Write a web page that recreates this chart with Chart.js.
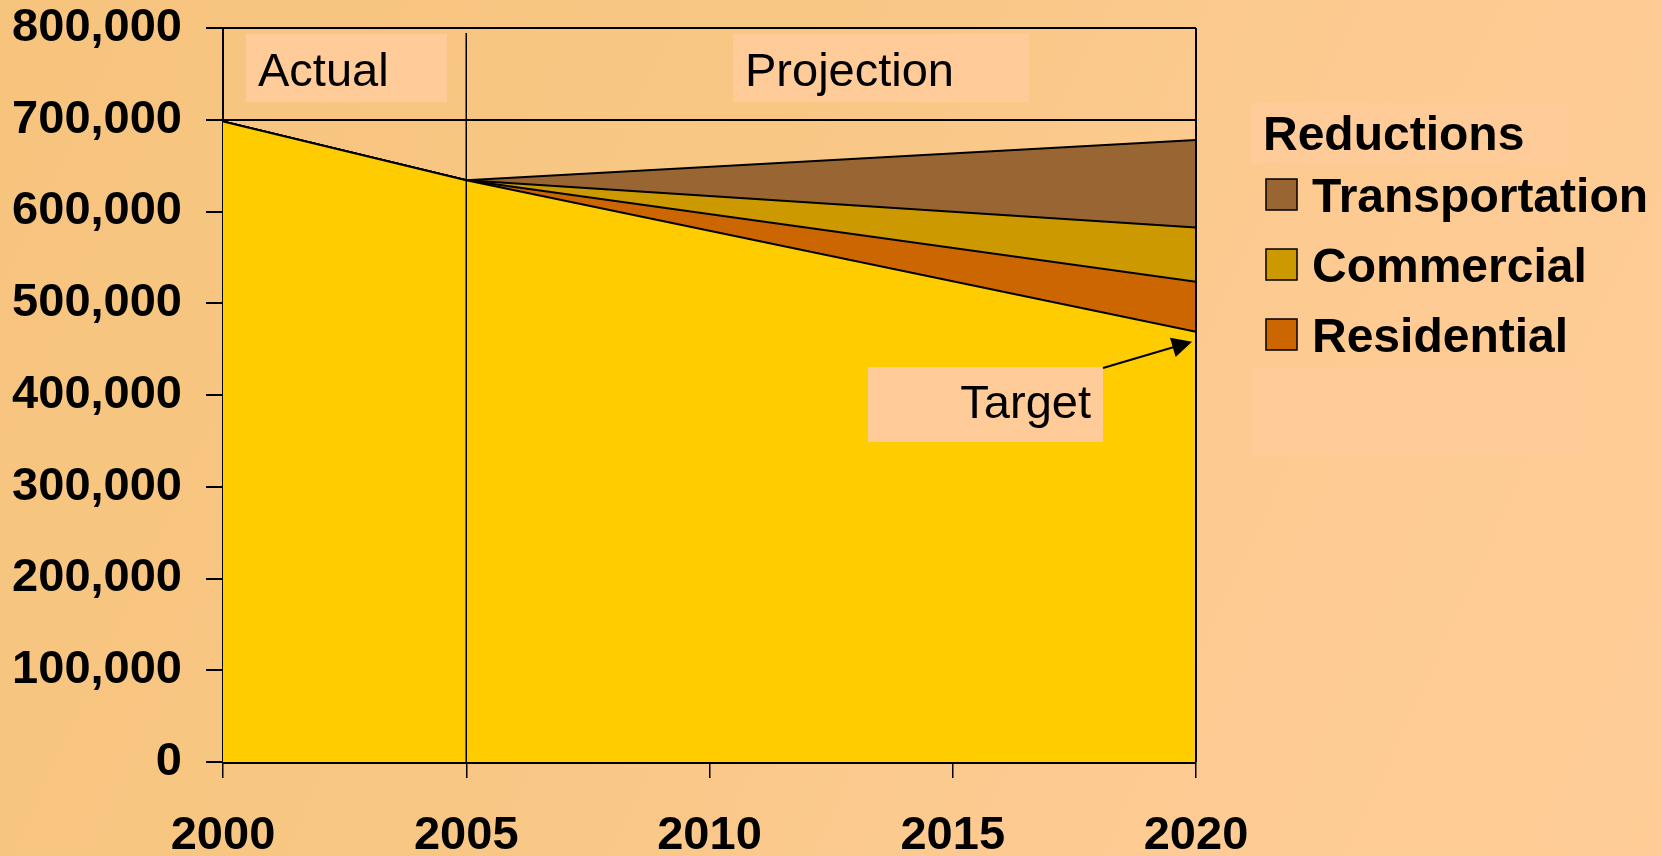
<!DOCTYPE html>
<html>
<head>
    <title>Emission Reductions</title>
    <script src="https://cdn.jsdelivr.net/npm/chart.js@4.4.0/dist/chart.umd.min.js"></script>
    <style>
        body {
            margin: 0;
            width: 1662px;
            height: 856px;
            overflow: hidden;
            background: linear-gradient(115deg, #F6C47D 0%, #F8C784 40%, #FDCB92 70%, #FFCC97 100%);
        }
        canvas { display: block; }
    </style>
</head>
<body>
    <canvas id="chart" width="1662" height="856"></canvas>

    <script>
        const years = [2000, 2005, 2020];
        const emissions = [698000, 634000, 469000];
        const residential = [0, 0, 54500];
        const commercial = [0, 0, 59000];
        const transportation = [0, 0, 95500];
        const yearTicks = [2000, 2005, 2010, 2015, 2020];

        const FONT = '"Liberation Sans", Arial, sans-serif';
        const BOX = '#FFCC99';

        function points(values) {
            return years.map((year, i) => ({ x: year, y: values[i] }));
        }

        function area(label, values, color, fill) {
            return {
                label: label,
                data: points(values),
                backgroundColor: color,
                borderColor: '#000',
                borderWidth: 2,
                fill: fill,
                pointRadius: 0,
                tension: 0
            };
        }

        // labelled boxes, offsets from the chart area's top-left corner
        const notes = [
            { text: 'Actual', dx: 23, dy: 6, w: 201, h: 68, align: 'left', base: 52 },
            { text: 'Projection', dx: 510, dy: 6, w: 296, h: 68, align: 'left', base: 52 },
            { text: 'Target', dx: 645, dy: 339, w: 235, h: 75, align: 'right', base: 51 }
        ];

        const overlay = {
            id: 'overlay',
            afterDatasetsDraw(chart) {
                const { ctx, chartArea: a, scales: { x, y } } = chart;
                ctx.save();

                // right frame edge and the actual/projection divider
                ctx.strokeStyle = '#000';
                ctx.lineWidth = 2;
                ctx.beginPath();
                ctx.moveTo(a.right, a.top);
                ctx.lineTo(a.right, a.bottom);
                ctx.stroke();
                const xd = x.getPixelForValue(years[1]);
                ctx.lineWidth = 1.5;
                ctx.beginPath();
                ctx.moveTo(xd, a.top + 5);
                ctx.lineTo(xd, a.bottom + 2);
                ctx.stroke();

                // text boxes
                ctx.font = '47px ' + FONT;
                ctx.textBaseline = 'alphabetic';
                notes.forEach(n => {
                    const bx = a.left + n.dx, by = a.top + n.dy;
                    ctx.fillStyle = BOX;
                    ctx.fillRect(bx, by, n.w, n.h);
                    ctx.fillStyle = '#000';
                    ctx.textAlign = n.align;
                    ctx.fillText(n.text, n.align === 'left' ? bx + 12 : bx + n.w - 12, by + n.base);
                });

                // arrow from the target box to the end of the target line
                const target = notes[2];
                const x0 = a.left + target.dx + target.w, y0 = a.top + target.dy + 1;
                const x1 = x.getPixelForValue(years[2]) - 4;
                const y1 = y.getPixelForValue(emissions[2]) + 10;
                const ang = Math.atan2(y1 - y0, x1 - x0);
                const cos = Math.cos(ang), sin = Math.sin(ang);
                ctx.lineWidth = 2;
                ctx.beginPath();
                ctx.moveTo(x0, y0);
                ctx.lineTo(x1 - 16 * cos, y1 - 16 * sin);
                ctx.stroke();
                ctx.beginPath();
                ctx.moveTo(x1, y1);
                ctx.lineTo(x1 - 20 * cos + 10 * sin, y1 - 20 * sin - 10 * cos);
                ctx.lineTo(x1 - 20 * cos - 10 * sin, y1 - 20 * sin + 10 * cos);
                ctx.closePath();
                ctx.fill();

                // legend for the reduction layers, top layer first
                const lx = a.right + 55;
                ctx.fillStyle = BOX;
                ctx.fillRect(lx, a.top + 75, 317, 60);
                ctx.fillRect(lx + 1, a.top + 340, 331, 87);
                ctx.fillStyle = '#000';
                ctx.textAlign = 'left';
                ctx.font = 'bold 48px ' + FONT;
                ctx.fillText('Reductions', lx + 12, a.top + 122);
                const layers = chart.data.datasets.slice(1).reverse();
                layers.forEach((ds, i) => {
                    const sy = a.top + 151 + i * 70;
                    ctx.fillStyle = ds.backgroundColor;
                    ctx.fillRect(lx + 15, sy, 31, 31);
                    ctx.lineWidth = 1.5;
                    ctx.strokeStyle = '#000';
                    ctx.strokeRect(lx + 15, sy, 31, 31);
                    ctx.fillStyle = '#000';
                    ctx.fillText(ds.label, lx + 61, sy + 33);
                });

                ctx.restore();
            }
        };

        new Chart(document.getElementById('chart'), {
            type: 'line',
            data: {
                datasets: [
                    area('Emissions', emissions, '#FFCC00', 'origin'),
                    area('Residential', residential, '#CC6600', '-1'),
                    area('Commercial', commercial, '#CC9900', '-1'),
                    area('Transportation', transportation, '#996633', '-1')
                ]
            },
            options: {
                responsive: false,
                animation: false,
                layout: { padding: { top: 28, right: 466, left: 0, bottom: 0 } },
                plugins: {
                    legend: { display: false },
                    tooltip: { enabled: false }
                },
                scales: {
                    x: {
                        type: 'linear',
                        min: 2000,
                        max: 2020,
                        afterBuildTicks: scale => {
                            scale.ticks = yearTicks.map(v => ({ value: v }));
                        },
                        afterFit: scale => {
                            scale.height = 94;
                            scale.paddingLeft = 0;
                            scale.paddingRight = 0;
                        },
                        grid: {
                            drawOnChartArea: false,
                            color: '#000',
                            lineWidth: 1.5,
                            tickLength: 16
                        },
                        border: { color: '#000', width: 3 },
                        ticks: {
                            color: '#000',
                            padding: 30,
                            maxRotation: 0,
                            font: { family: FONT, size: 47, weight: 'bold' },
                            callback: v => String(v)
                        }
                    },
                    y: {
                        stacked: true,
                        min: 0,
                        max: 800000,
                        afterFit: scale => {
                            scale.width = 223;
                            scale.paddingTop = 0;
                            scale.paddingBottom = 0;
                        },
                        grid: {
                            color: '#000',
                            lineWidth: 2,
                            tickLength: 17
                        },
                        border: { color: '#000', width: 2 },
                        ticks: {
                            stepSize: 100000,
                            color: '#000',
                            padding: 24,
                            font: { family: FONT, size: 47, weight: 'bold' },
                            callback: v => v.toLocaleString('en-US')
                        }
                    }
                }
            },
            plugins: [overlay]
        });
    </script>
</body>
</html>
